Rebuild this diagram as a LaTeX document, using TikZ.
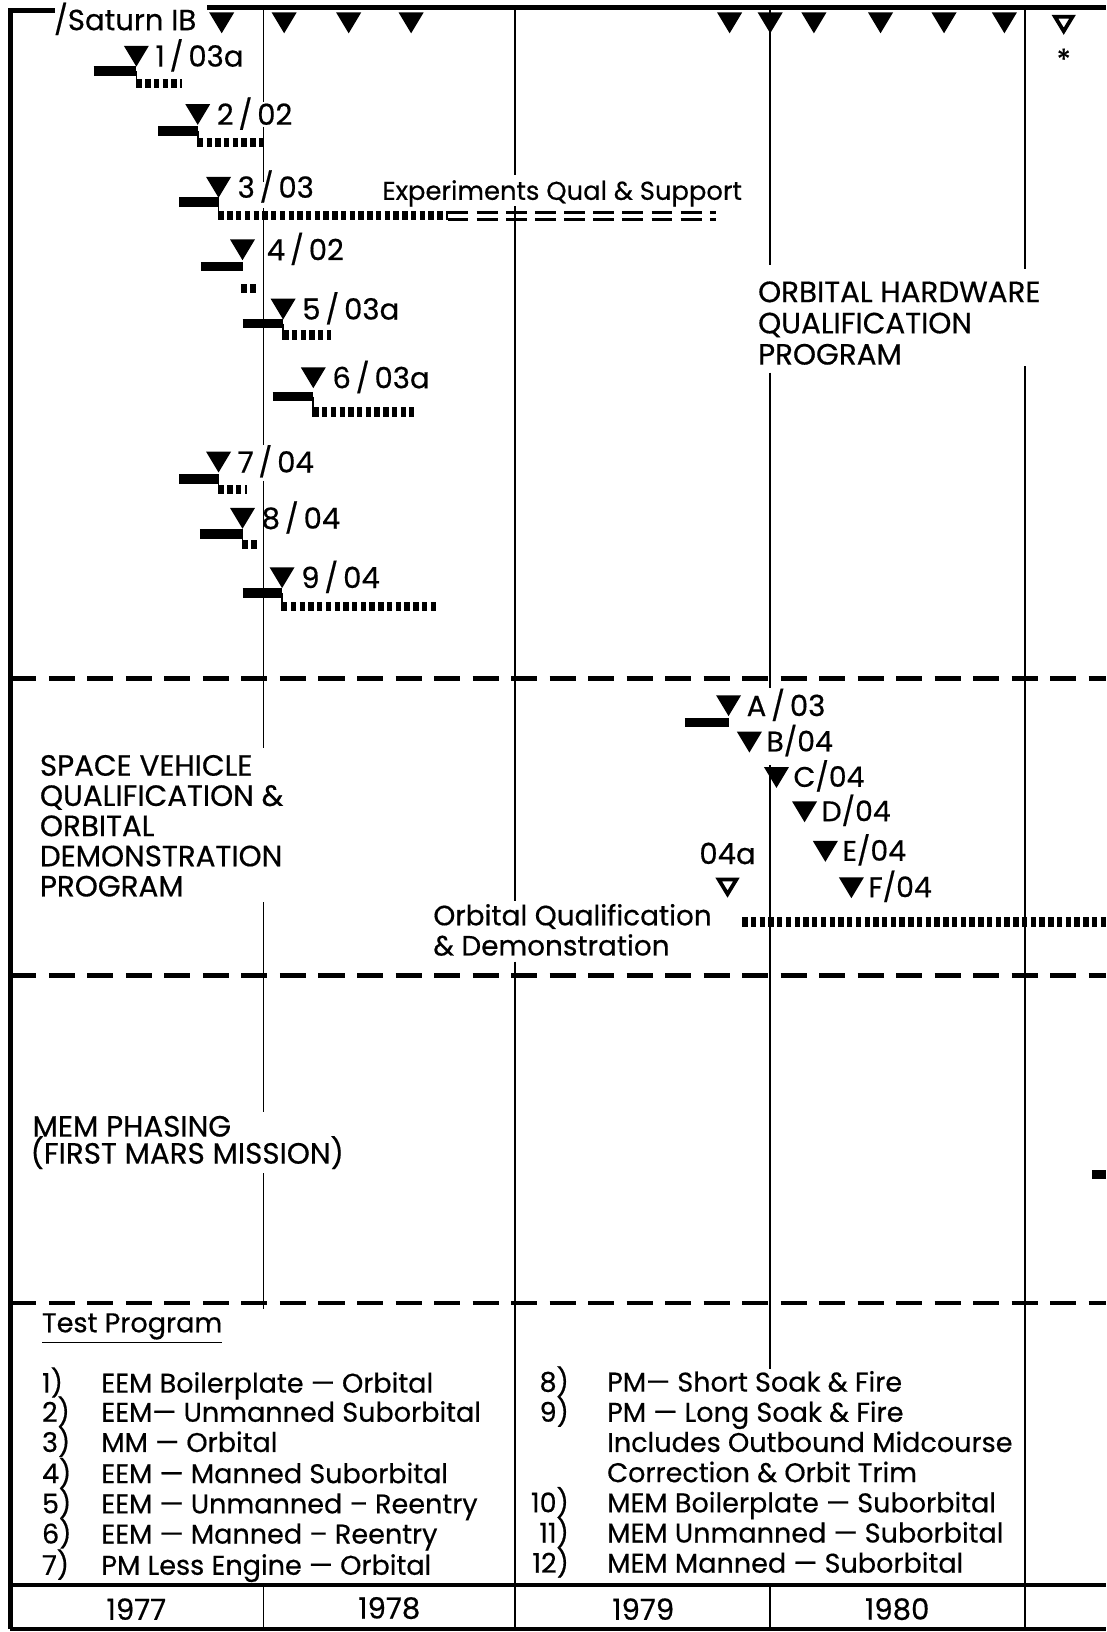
\documentclass[tikz,border=0pt]{standalone}
\usepackage{fontspec}
\setmainfont{Poppins}[FakeBold=0.5]
\newcommand\msl{\,/\,}
\begin{document}
\begin{tikzpicture}[x=0.5pt,y=-0.5pt,
  lab/.style={inner sep=0pt, font=\fontsize{12.8pt}{14.6pt}\selectfont},
  capslab/.style={inner sep=0pt, font=\fontsize{14.1pt}{14.6pt}\selectfont},
  mlab/.style={inner sep=0pt, font=\fontsize{14pt}{15pt}\selectfont},
  leglab/.style={inner sep=0pt, font=\fontsize{13pt}{14.6pt}\selectfont},
  gridline/.style={line width=0.7pt},
  sepline/.style={line width=2.2pt, dash pattern=on 12.5pt off 6pt},
  frameline/.style={line width=2.2pt},
  dotbar/.style={line width=4.5pt, dash pattern=on 2.6pt off 1.6pt},
  solidbar/.style={line width=4.6pt},
  mtri/.pic={\fill (-12,0) -- (12,0) -- (0,20) -- cycle;},
  otri/.pic={\draw[line width=1.8pt, line join=miter] (-8.5,2) -- (8.5,2) -- (0,16) -- cycle;}
]
\useasboundingbox (0,0) rectangle (1063,1568);

% frame
\draw[frameline] (10,1565) -- (10,10) -- (53,10);
\draw[line width=2.5pt] (199,7) -- (1063,7);
\draw[frameline] (10,1523) -- (1063,1523);
\draw[frameline] (10,1565) -- (1063,1565);

% section separators
\foreach \yy in {652,937,1252} \draw[sepline] (10,\yy) -- (1063,\yy);

% year grid lines
\draw[gridline] (253,7) -- (253,98) (253,122) -- (253,175) (253,200) -- (253,428) (253,462) -- (253,719)
  (253,867) -- (253,1068) (253,1127) -- (253,1258) (253,1523) -- (253,1565);
\draw[gridline] (495,7) -- (495,168) (495,198) -- (495,866) (495,924) -- (495,1565);
\draw[gridline] (740,7) -- (740,255) (740,358) -- (740,661) (740,735) -- (740,1315)
  (740,1523) -- (740,1565);
\draw[gridline] (985,7) -- (985,258) (985,352) -- (985,1565);

% top milestone row
\node[mlab, anchor=base east] (sat) at (189,29) {/Saturn IB};
\foreach \x in {213,273,335,395,701,740,782,846,907,965} \pic at (\x,12) {mtri};
\pic at (1022,14) {otri};
\node[mlab] (star) at (1022,57) {*};

% test milestones
\foreach \n/\x/\y/\bx/\by/\dx/\dy/\t in {
  1/131/44/90/68/175/80/{1\msl 03a},
  2/190/100/152/126/253/137/{2\msl 02},
  3/210/170/172/194/430/207/{3\msl 03},
  5/272/287/233/311/318/322/{5\msl 03a},
  6/301/353/262/381/398/396/{6\msl 03a},
  7/210/434/172/460/237/470/{7\msl 04},
  8/233/488/192/513/249/523/{8\msl 04},
  9/271/545/233/570/422/583/{9\msl 04}}{
  \pic at (\x,\y) {mtri};
  \draw[solidbar] (\bx,\by) -- (\x,\by);
  \draw[line width=0.8pt] (\x,\by) -- (\x,\dy+4.5);
  \draw[dotbar] (\x,\dy) -- (\dx,\dy);
  \node[mlab, anchor=base west] (m\n) at (\x+18,\y+20) {\t};
}
% item 4
\pic at (233,230) {mtri};
\draw[solidbar] (193,256) -- (233,256);
\draw[dotbar] (232,277) -- (248,277);
\node[mlab, anchor=base west] (m4) at (256,250) {4\msl 02};

% experiments continuation
\draw[line width=1.4pt, dash pattern=on 10pt off 4pt] (430,204) -- (688,204);
\draw[line width=1.4pt, dash pattern=on 10pt off 4pt] (430,211) -- (688,211);
\node[lab, font=\fontsize{12.4pt}{14pt}\selectfont, anchor=base west] (exq) at (367,192) {Experiments Qual \& Support};

% orbital hardware
\node[capslab, anchor=north west, align=left, font=\fontsize{14.1pt}{15pt}\selectfont]
  (ohq) at (728,270) {ORBITAL HARDWARE\\QUALIFICATION\\PROGRAM};

% space vehicle section
\node[capslab, anchor=north west, align=left, font=\fontsize{14.1pt}{14.5pt}\selectfont]
  (svq) at (38,725) {SPACE VEHICLE\\QUALIFICATION \&\\ORBITAL\\DEMONSTRATION\\PROGRAM};

\pic at (700,668) {mtri};
\draw[solidbar] (658,694) -- (700,694);
\node[mlab, anchor=base west] (mA) at (717,688) {A\msl 03};
\foreach \n/\x/\y in {B/720/703, C/746/737, D/773/770, E/793/808, F/818/843}{
  \pic at (\x,\y) {mtri};
  \node[mlab, font=\fontsize{13.6pt}{15pt}\selectfont, anchor=base west] (m\n) at (\x+16,\y+19) {\n/04};
}
\node[mlab] (l04a) at (699,820) {04a};
\pic at (699,843) {otri};
\node[lab, font=\fontsize{13.4pt}{15pt}\selectfont, anchor=base west] (oq1) at (416,889) {Orbital Qualification};
\node[lab, font=\fontsize{13.4pt}{15pt}\selectfont, anchor=base west] (oq2) at (416,918) {\& Demonstration};
\draw[dotbar, line width=5pt] (713,886) -- (1063,886);

% MEM phasing
\node[capslab, anchor=base west] (mem1) at (31,1092) {MEM PHASING};
\node[capslab, anchor=base west] (mem2) at (29,1118) {(FIRST MARS MISSION)};
\fill (1049,1124) rectangle (1063,1133);

% legend
\node[leglab, anchor=base west] (tp) at (40,1280) {\underline{Test Program}};
\foreach \i/\yy/\t in {
  1/1329/{EEM Boilerplate — Orbital},
  2/1357/{EEM— Unmanned Suborbital},
  3/1386/{MM — Orbital},
  4/1416/{EEM — Manned Suborbital},
  5/1445/{EEM — Unmanned – Reentry},
  6/1474/{EEM — Manned – Reentry},
  7/1504/{PM Less Engine — Orbital}}{
  \node[leglab, anchor=base west] (n\i) at (40,\yy+9) {\i)};
  \node[leglab, anchor=base west] (t\i) at (97,\yy+9) {\t};
}
\foreach \i/\yy/\t in {
  8/1328/{PM— Short Soak \& Fire},
  9/1357/{PM — Long Soak \& Fire},
  10/1444/{MEM Boilerplate — Suborbital},
  11/1473/{MEM Unmanned — Suborbital},
  12/1502/{MEM Manned — Suborbital}}{
  \node[leglab, anchor=base east] (n\i) at (547,\yy+9) {\i)};
  \node[leglab, anchor=base west] (t\i) at (583,\yy+9) {\t};
}
\node[leglab, anchor=base west] (t9a) at (583,1395) {Includes Outbound Midcourse};
\node[leglab, anchor=base west] (t9b) at (583,1424) {Correction \& Orbit Trim};

% years
\node[mlab] (y77) at (131,1546) {1977};
\node[mlab] (y78) at (374,1545) {1978};
\node[mlab] (y79) at (618,1546) {1979};
\node[mlab] (y80) at (862,1546) {1980};
\end{tikzpicture}
\end{document}
